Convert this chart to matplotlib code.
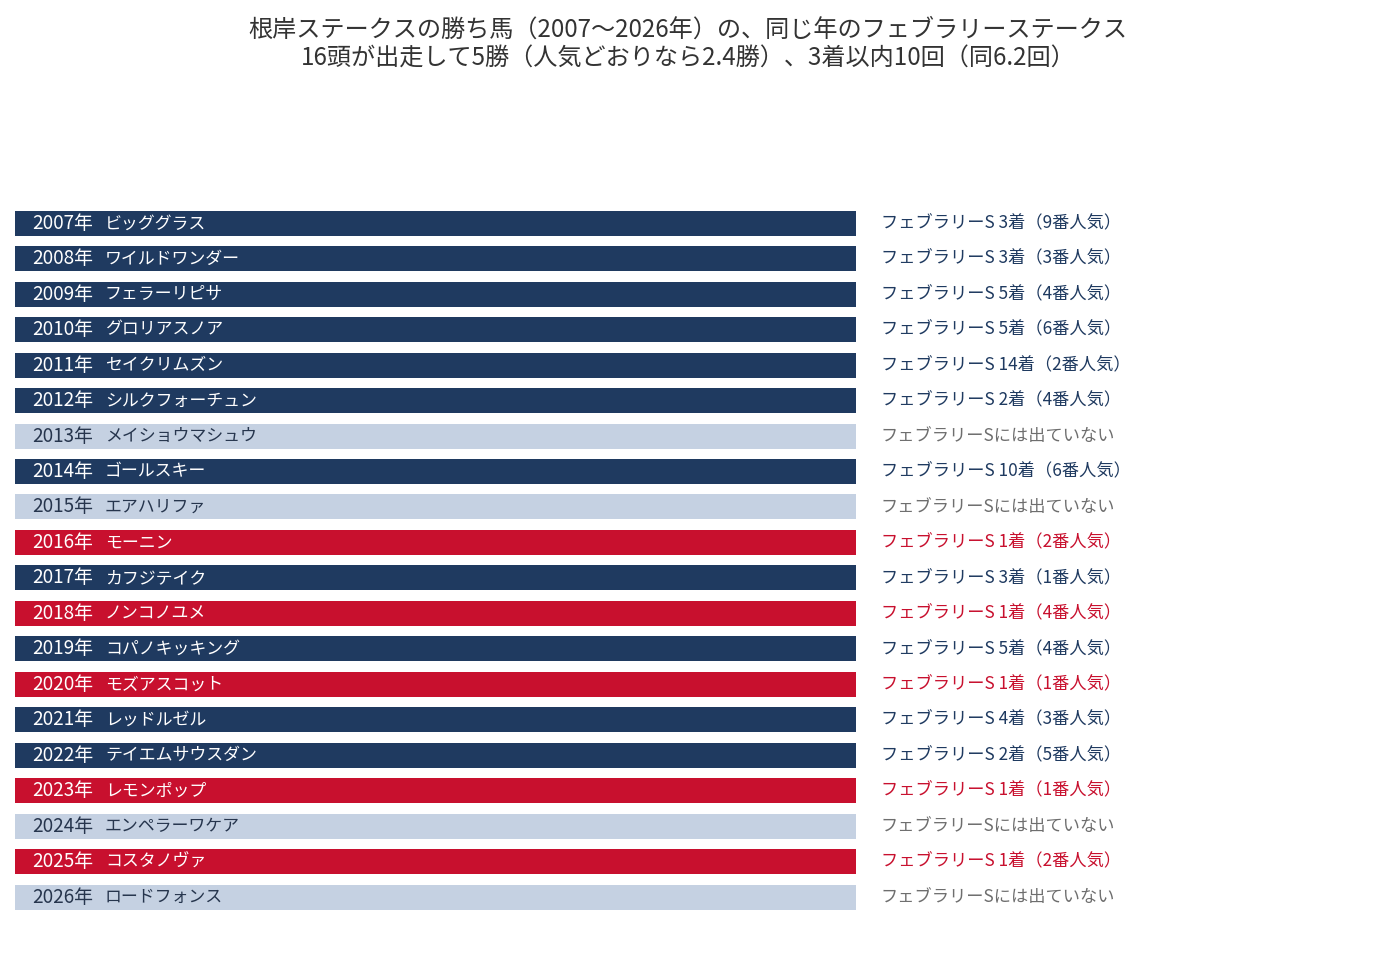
import matplotlib
matplotlib.use("Agg")
import matplotlib.pyplot as plt

plt.rcParams['font.family'] = ['Noto Sans CJK JP', 'DejaVu Sans']

years = [2007, 2008, 2009, 2010, 2011, 2012, 2013, 2014, 2015, 2016,
         2017, 2018, 2019, 2020, 2021, 2022, 2023, 2024, 2025, 2026]
horses = ["ビッググラス", "ワイルドワンダー", "フェラーリピサ", "グロリアスノア", "セイクリムズン",
          "シルクフォーチュン", "メイショウマシュウ", "ゴールスキー", "エアハリファ", "モーニン",
          "カフジテイク", "ノンコノユメ", "コパノキッキング", "モズアスコット", "レッドルゼル",
          "テイエムサウスダン", "レモンポップ", "エンペラーワケア", "コスタノヴァ", "ロードフォンス"]
# finishing position in February Stakes (None = did not run)
finish = [3, 3, 5, 5, 14, 2, None, 10, None, 1, 3, 1, 5, 1, 4, 2, 1, None, 1, None]
popularity = [9, 3, 4, 6, 2, 4, None, 6, None, 2, 1, 4, 4, 1, 3, 5, 1, None, 2, None]

title = ("根岸ステークスの勝ち馬（2007〜2026年）の、同じ年のフェブラリーステークス\n"
         "16頭が出走して5勝（人気どおりなら2.4勝）、3着以内10回（同6.2回）")

NAVY = "#1f3a60"
LIGHT = "#c5d1e2"
RED = "#c8102e"
GRAY = "#6e6e6e"

fig = plt.figure(figsize=(13.76, 9.6), dpi=100)
ax = fig.add_axes([15/1376, 1 - 914.9/960, 841/1376, 709.4/960])

n = len(years)
for i in range(n):
    f = finish[i]
    if f is None:
        bc, tc, rc = LIGHT, "#26354d", GRAY
        rtext = "フェブラリーSには出ていない"
    elif f == 1:
        bc, tc, rc = RED, "white", RED
        rtext = f"フェブラリーS {f}着（{popularity[i]}番人気）"
    else:
        bc, tc, rc = NAVY, "#ffffff", NAVY
        rtext = f"フェブラリーS {f}着（{popularity[i]}番人気）"
    ax.barh(i, 1, left=0, height=25/35.47, color=bc, edgecolor="none")
    ax.text(17/841, i, f"{years[i]}年", color=tc, fontsize=13.6,
            va="center", ha="left", transform=ax.get_yaxis_transform())
    ax.text(90/841, i, horses[i], color=tc, fontsize=12.2,
            va="center", ha="left", transform=ax.get_yaxis_transform())
    ax.text(1.0297, i, rtext, color=rc, fontsize=12.4, va="center", ha="left",
            transform=ax.get_yaxis_transform(), clip_on=False)

ax.set_xlim(0, 1)
ax.set_ylim(n - 0.5, -0.5)
ax.axis("off")

fig.text(0.5, 1 - 44/960, title, ha="center", va="center", fontsize=17.4,
         color="#333333", linespacing=1.15)

fig.savefig("out.png", dpi=100)
